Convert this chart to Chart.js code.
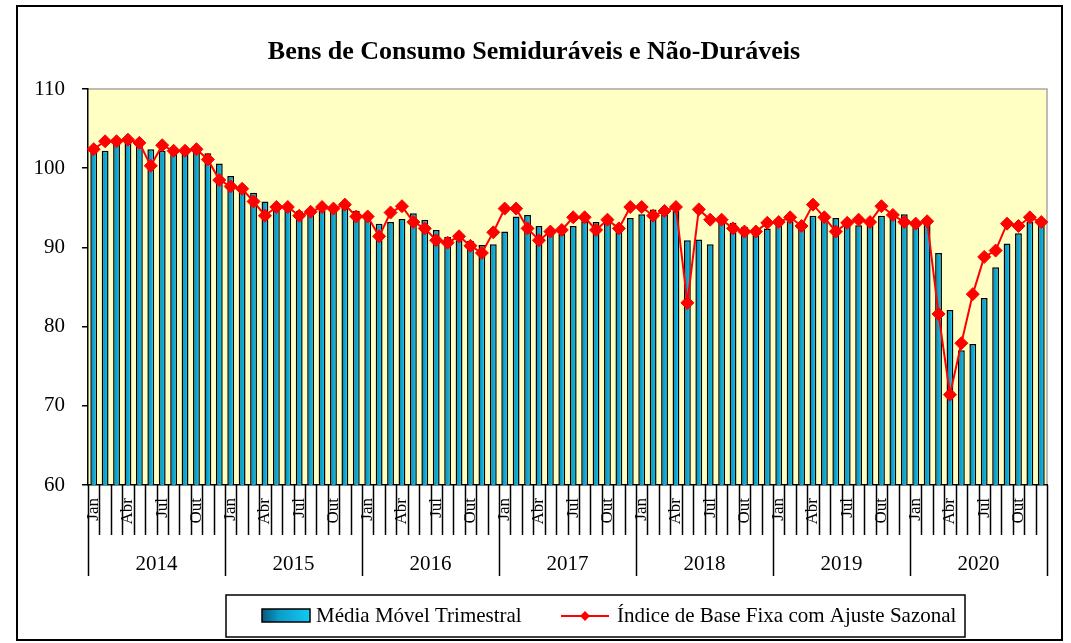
<!DOCTYPE html>
<html>
<head>
<meta charset="utf-8">
<title>Bens de Consumo Semiduráveis e Não-Duráveis</title>
<script src="https://cdn.jsdelivr.net/npm/chart.js@4"></script>
<style>
    html, body { margin: 0; padding: 0; background: #ffffff; }
    #wrap { width: 1071px; height: 643px; }
</style>
</head>
<body>
<div id="wrap"><canvas id="chart" width="1071" height="643"></canvas></div>
<script>
// Chart data
const chartTitle = 'Bens de Consumo Semiduráveis e Não-Duráveis';
const monthNames = ['Jan', 'Fev', 'Mar', 'Abr', 'Mai', 'Jun', 'Jul', 'Ago', 'Set', 'Out', 'Nov', 'Dez'];
const shownMonths = ['Jan', 'Abr', 'Jul', 'Out'];
const years = ['2014', '2015', '2016', '2017', '2018', '2019', '2020'];
const yTicks = [60, 70, 80, 90, 100, 110];

const barLabel = 'Média Móvel Trimestral';
const lineLabel = 'Índice de Base Fixa com Ajuste Sazonal';

const mediaMovel = [
    102.3, 102.2, 103.1, 103.4, 103.3, 102.4, 102.2, 102.0, 102.3, 102.2, 101.9, 100.6,
    99.0, 97.9, 96.9, 95.8, 94.9, 94.7, 94.6, 94.4, 94.6, 94.8, 95.1, 94.6,
    94.4, 93.0, 93.2, 93.6, 94.3, 93.5, 92.2, 91.3, 90.9, 90.8, 90.3, 90.4,
    92.0, 93.9, 94.1, 92.7, 91.8, 91.7, 92.7, 93.3, 93.2, 93.1, 92.7, 93.7,
    94.2, 94.8, 94.5, 94.6, 90.9, 91.0, 90.4, 93.9, 93.1, 92.6, 92.1, 92.4,
    92.8, 93.3, 93.2, 94.0, 93.9, 93.7, 92.9, 92.8, 93.2, 94.0, 94.2, 94.2,
    93.4, 93.2, 89.3, 82.1, 77.0, 77.8, 83.6, 87.5, 90.5, 91.8, 93.2, 93.2
];

const indiceAjustado = [
    102.4, 103.4, 103.4, 103.6, 103.2, 100.3, 102.9, 102.2, 102.2, 102.4, 101.1, 98.5,
    97.7, 97.4, 95.8, 94.0, 95.1, 95.1, 94.0, 94.5, 95.1, 94.9, 95.4, 93.9,
    93.9, 91.4, 94.4, 95.2, 93.2, 92.4, 90.9, 90.6, 91.4, 90.2, 89.3, 91.9,
    94.9, 94.9, 92.4, 90.9, 92.0, 92.2, 93.8, 93.8, 92.2, 93.5, 92.4, 95.1,
    95.1, 94.0, 94.6, 95.1, 83.0, 94.8, 93.5, 93.5, 92.4, 92.0, 92.0, 93.1,
    93.2, 93.8, 92.7, 95.4, 93.8, 92.0, 93.1, 93.5, 93.2, 95.2, 94.1, 93.2,
    93.0, 93.3, 81.6, 71.4, 77.9, 84.1, 88.8, 89.6, 93.0, 92.7, 93.8, 93.2
];

const labels = [];
years.forEach(() => monthNames.forEach(m => labels.push(m)));

const FONT = "'Liberation Serif', 'DejaVu Serif', serif";

// horizontal dark-to-cyan gradient used on the bars and legend swatch
function barGradient(ctx, x0, x1) {
    const g = ctx.createLinearGradient(x0, 0, x1, 0);
    g.addColorStop(0, '#07587a');
    g.addColorStop(0.35, '#0a9dca');
    g.addColorStop(1, '#12c9f2');
    return g;
}

// Background, frame, title, category rows and legend
const decorations = {
    id: 'decorations',
    beforeDraw(chart) {
        const { ctx, chartArea: a } = chart;
        ctx.save();
        ctx.fillStyle = '#ffffff';
        ctx.fillRect(0, 0, chart.width, chart.height);
        ctx.fillStyle = '#ffffc4';
        ctx.fillRect(a.left, a.top, a.right - a.left, a.bottom - a.top);
        ctx.strokeStyle = '#a8a8a8';
        ctx.lineWidth = 1.5;
        ctx.beginPath();
        ctx.moveTo(a.left, a.top);
        ctx.lineTo(a.right, a.top);
        ctx.lineTo(a.right, a.bottom);
        ctx.stroke();
        ctx.restore();
    },
    afterDraw(chart) {
        const { ctx, chartArea: a } = chart;
        const xs = chart.scales.x;
        ctx.save();

        // outer frame
        ctx.strokeStyle = '#000000';
        ctx.lineWidth = 2;
        ctx.strokeRect(17, 6, 1045, 634);

        // title
        ctx.fillStyle = '#000000';
        ctx.font = 'bold 26px ' + FONT;
        ctx.textAlign = 'center';
        ctx.textBaseline = 'middle';
        ctx.fillText(chartTitle, 534, 52);

        // month separators and year separators
        ctx.lineWidth = 1.5;
        ctx.beginPath();
        for (let i = 0; i <= labels.length; i++) {
            const px = Math.round(xs.getPixelForValue(i - 0.5)) + 0.5;
            const len = (i % 12 === 0) ? 91 : 50;
            ctx.moveTo(px, a.bottom);
            ctx.lineTo(px, a.bottom + len);
        }
        ctx.stroke();

        // year labels
        ctx.font = '21px ' + FONT;
        ctx.textAlign = 'center';
        years.forEach((y, k) => {
            const x0 = xs.getPixelForValue(k * 12 - 0.5);
            const x1 = xs.getPixelForValue(k * 12 + 11.5);
            ctx.fillText(y, (x0 + x1) / 2, a.bottom + 79);
        });

        // legend
        ctx.lineWidth = 1.5;
        ctx.strokeRect(226, 595, 739, 42);
        ctx.fillStyle = barGradient(ctx, 262, 310);
        ctx.fillRect(262, 609, 48, 13);
        ctx.strokeRect(262, 609, 48, 13);
        ctx.fillStyle = '#000000';
        ctx.font = '21px ' + FONT;
        ctx.textAlign = 'left';
        ctx.fillText(barLabel, 316, 616);

        ctx.strokeStyle = '#ff0000';
        ctx.lineWidth = 2;
        ctx.beginPath();
        ctx.moveTo(561, 616);
        ctx.lineTo(609, 616);
        ctx.stroke();
        ctx.fillStyle = '#ff0000';
        ctx.beginPath();
        ctx.moveTo(585, 611);
        ctx.lineTo(590, 616);
        ctx.lineTo(585, 621);
        ctx.lineTo(580, 616);
        ctx.closePath();
        ctx.fill();
        ctx.fillStyle = '#000000';
        ctx.fillText(lineLabel, 617, 616);

        ctx.restore();
    }
};

const chart = new Chart(document.getElementById('chart').getContext('2d'), {
    data: {
        labels: labels,
        datasets: [
            {
                type: 'line',
                label: lineLabel,
                data: indiceAjustado,
                order: 0,
                borderColor: '#ff0000',
                borderWidth: 2,
                tension: 0,
                pointStyle: 'rectRot',
                pointRadius: 6.5,
                pointBackgroundColor: '#ff0000',
                pointBorderColor: '#ff0000',
                pointBorderWidth: 1
            },
            {
                type: 'bar',
                label: barLabel,
                data: mediaMovel,
                order: 1,
                barPercentage: 0.6,
                categoryPercentage: 1.0,
                borderColor: '#000000',
                borderWidth: 1.5,
                backgroundColor: (c) => {
                    const xs = c.chart.scales.x;
                    if (c.type !== 'data' || !xs) return '#0a9dca';
                    const cx = xs.getPixelForValue(c.dataIndex);
                    if (!Number.isFinite(cx)) return '#0a9dca';
                    return barGradient(c.chart.ctx, cx - 3.5, cx + 3.5);
                }
            }
        ]
    },
    options: {
        responsive: false,
        animation: false,
        layout: {
            padding: { left: 18, right: 24, top: 89, bottom: 0 }
        },
        plugins: {
            legend: { display: false },
            title: { display: false },
            tooltip: { enabled: false }
        },
        scales: {
            x: {
                type: 'category',
                offset: true,
                grid: { display: false },
                border: { display: true, color: '#000000', width: 1.5 },
                ticks: {
                    autoSkip: false,
                    minRotation: 90,
                    maxRotation: 90,
                    padding: 5,
                    color: '#000000',
                    font: { family: FONT, size: 17 },
                    callback: function (value) {
                        const m = this.getLabelForValue(value);
                        return shownMonths.includes(m) ? m : '';
                    }
                },
                afterFit: (scale) => { scale.height = 158; }
            },
            y: {
                min: yTicks[0],
                max: yTicks[yTicks.length - 1],
                afterBuildTicks: (scale) => {
                    scale.ticks = yTicks.map(v => ({ value: v }));
                },
                grid: {
                    drawOnChartArea: false,
                    drawTicks: true,
                    tickLength: 6,
                    color: '#000000',
                    lineWidth: 1.5
                },
                border: { display: true, color: '#000000', width: 1.5 },
                ticks: {
                    padding: 17,
                    color: '#000000',
                    font: { family: FONT, size: 21 }
                },
                afterFit: (scale) => { scale.width = 70; }
            }
        }
    },
    plugins: [decorations]
});
</script>
</body>
</html>
